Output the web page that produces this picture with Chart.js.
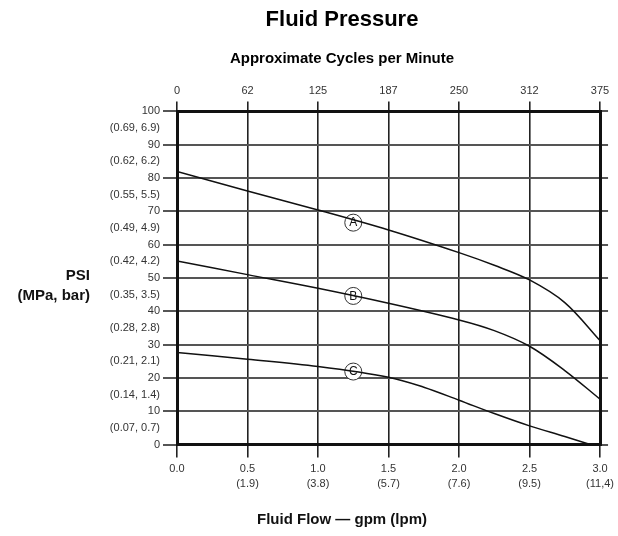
<!DOCTYPE html>
<html>
<head>
<meta charset="utf-8">
<script src="https://cdn.jsdelivr.net/npm/chart.js@4"></script>
<style>
html,body{margin:0;padding:0;background:#fff;}
#wrap{width:618px;height:536px;}
</style>
</head>
<body>
<div id="wrap"><canvas id="c" width="618" height="536"></canvas></div>
<script>
// ---- data ----
const flowA = [0, 0.5, 1.0, 1.5, 2.0, 2.25, 2.5, 2.75, 3.0];
const psiA  = [82, 76.1, 70.4, 64.4, 57.6, 53.8, 49.4, 42.6, 31.2];
const flowB = [0, 0.5, 1.0, 1.5, 2.0, 2.25, 2.5, 2.75, 3.0];
const psiB  = [55.1, 51.0, 46.9, 42.4, 37.4, 34.2, 29.5, 22.2, 13.6];
const flowC = [0, 0.5, 1.0, 1.5, 1.75, 2.0, 2.25, 2.5, 2.75, 2.93];
const psiC  = [27.6, 25.6, 23.4, 20.2, 17.2, 13.3, 9.3, 5.6, 2.4, 0];
const curveLetters = ['A', 'B', 'C'];
const letterFlow = [1.25, 1.25, 1.25];
const letterPsi  = [66.6, 44.6, 21.9];

const gpmLabels = ['0.0', '0.5', '1.0', '1.5', '2.0', '2.5', '3.0'];
const lpmLabels = ['', '(1.9)', '(3.8)', '(5.7)', '(7.6)', '(9.5)', '(11,4)'];
const cycleTicks  = [0, 62.5, 125, 187.5, 250, 312.5, 375];
const cycleLabels = ['0', '62', '125', '187', '250', '312', '375'];
const psiMetricLabels = ['(0.07, 0.7)', '(0.14, 1.4)', '(0.21, 2.1)', '(0.28, 2.8)', '(0.35, 3.5)',
                         '(0.42, 4.2)', '(0.49, 4.9)', '(0.55, 5.5)', '(0.62, 6.2)', '(0.69, 6.9)'];

const FONT = "'Liberation Sans', Arial, sans-serif";
const pts = (xs, ys) => xs.map((x, i) => ({x: x, y: ys[i]}));

const curveStyle = {
  borderColor: '#111', borderWidth: 1.5, pointRadius: 0, fill: false, tension: 0.35
};

const textPlugin = {
  id: 'extraText',
  afterDatasetsDraw(chart) {
    const ctx = chart.ctx;
    const meta = chart.getDatasetMeta(3);
    ctx.save();
    ctx.fillStyle = '#111';
    ctx.font = '12px ' + FONT;
    ctx.textAlign = 'center';
    ctx.textBaseline = 'middle';
    meta.data.forEach((p, i) => ctx.fillText(curveLetters[i], p.x, p.y + 0.5));
    ctx.restore();
  },
  afterDraw(chart) {
    const ctx = chart.ctx;
    const a = chart.chartArea;
    ctx.save();
    ctx.fillStyle = '#111';
    ctx.font = 'bold 15px ' + FONT;
    ctx.textBaseline = 'middle';
    ctx.textAlign = 'right';
    ctx.fillText('PSI', a.left - 87, 276);
    ctx.fillText('(MPa, bar)', a.left - 87, 296);
    ctx.textAlign = 'center';
    ctx.fillText('Fluid Flow \u2014 gpm (lpm)', a.left + 165, 520);
    ctx.restore();
  }
};

new Chart(document.getElementById('c'), {
  type: 'line',
  data: {
    datasets: [
      Object.assign({label: 'A', data: pts(flowA, psiA)}, curveStyle),
      Object.assign({label: 'B', data: pts(flowB, psiB)}, curveStyle),
      Object.assign({label: 'C', data: pts(flowC, psiC)}, curveStyle),
      {label: 'labels', data: pts(letterFlow, letterPsi), showLine: false,
       pointRadius: 8.5, pointHoverRadius: 8.5, pointBackgroundColor: '#fff',
       pointBorderColor: '#333', pointBorderWidth: 1}
    ]
  },
  options: {
    responsive: false,
    animation: false,
    events: [],
    layout: {padding: {left: 75, right: 9, top: 0, bottom: 0}},
    plugins: {
      legend: {display: false},
      tooltip: {enabled: false},
      title: {display: true, text: 'Fluid Pressure', color: '#000',
              font: {family: FONT, size: 22, weight: 'bold'}, padding: {top: 7, bottom: 16.5}},
      subtitle: {display: true, text: 'Approximate Cycles per Minute', color: '#000',
              font: {family: FONT, size: 15, weight: 'bold'}, padding: {top: 0, bottom: 0}}
    },
    scales: {
      x: {
        type: 'linear', position: 'bottom', min: 0, max: 3,
        afterFit: s => { s.height = 91.5; },
        ticks: {stepSize: 0.5, color: '#333', padding: 4, maxRotation: 0,
                font: {family: FONT, size: 11, lineHeight: 1.35},
                callback: (v, i) => [gpmLabels[i], lpmLabels[i]]},
        grid: {color: '#222', lineWidth: 1.6, tickLength: 13, tickColor: '#222'},
        border: {display: true, color: '#111', width: 3}
      },
      x2: {
        type: 'linear', position: 'top', min: 0, max: 375,
        afterFit: s => { s.height = 43.5; },
        afterBuildTicks: s => { s.ticks = cycleTicks.map(v => ({value: v})); },
        ticks: {color: '#333', padding: 4, maxRotation: 0, autoSkip: false,
                font: {family: FONT, size: 11},
                callback: (v, i) => cycleLabels[i]},
        grid: {drawOnChartArea: false, color: '#222', lineWidth: 1.6, tickLength: 10},
        border: {display: true, color: '#111', width: 3}
      },
      y: {
        type: 'linear', position: 'left', min: 0, max: 100,
        afterFit: s => { s.width = 102; },
        ticks: {stepSize: 5, color: '#333', padding: 3, autoSkip: false,
                font: {family: FONT, size: 11},
                callback: v => (v % 10 === 0 ? String(v) : psiMetricLabels[Math.floor(v / 10)])},
        grid: {
          lineWidth: 2, tickLength: 14,
          color: c => (c.tick && c.tick.value % 10 === 0 ? '#555' : 'rgba(0,0,0,0)'),
          tickColor: c => (c.tick && c.tick.value % 10 === 0 ? '#555' : 'rgba(0,0,0,0)')
        },
        border: {display: true, color: '#111', width: 3}
      },
      y2: {
        type: 'linear', position: 'right', min: 0, max: 100,
        afterFit: s => { s.width = 8; },
        ticks: {stepSize: 10, display: false},
        grid: {drawOnChartArea: false, color: '#555', lineWidth: 2, tickLength: 8},
        border: {display: true, color: '#111', width: 3}
      }
    }
  },
  plugins: [textPlugin]
});
</script>
</body>
</html>
